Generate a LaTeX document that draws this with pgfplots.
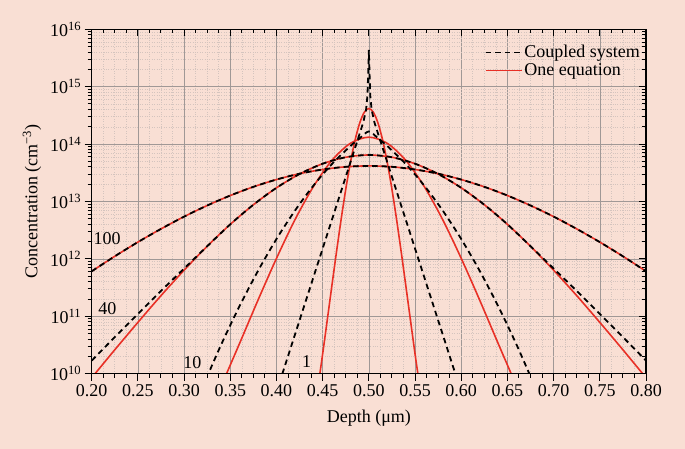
\documentclass[border=0pt]{standalone}
\usepackage{fontspec}
\setmainfont{Liberation Serif}
\usepackage{pgfplots}
\pgfplotsset{compat=1.18}
\usetikzlibrary{backgrounds,calc}

\definecolor{bgpeach}{RGB}{249,223,212}
\definecolor{curvered}{RGB}{232,48,38}
\definecolor{majgrid}{RGB}{160,152,150}
\definecolor{mingrid}{RGB}{212,196,190}

\tikzset{
  red line/.style={curvered, line width=1.6pt},
  black dash/.style={black, line width=1.8pt, dash pattern=on 5.5pt off 4pt},
}

\begin{document}
\begin{tikzpicture}[font=\fontsize{18}{21.6}\selectfont]
\begin{axis}[
    width=554.3pt, height=344.4pt, scale only axis,
    xmin=0.2, xmax=0.8,
    ymode=log, ymin=1e10, ymax=1e16,
    xtick={0.2,0.25,0.3,0.35,0.4,0.45,0.5,0.55,0.6,0.65,0.7,0.75,0.8},
    minor x tick num=3,
    ytick={1e10,1e11,1e12,1e13,1e14,1e15,1e16},
    minor ytick={2e10,3e10,4e10,5e10,6e10,7e10,8e10,9e10,
                 2e11,3e11,4e11,5e11,6e11,7e11,8e11,9e11,
                 2e12,3e12,4e12,5e12,6e12,7e12,8e12,9e12,
                 2e13,3e13,4e13,5e13,6e13,7e13,8e13,9e13,
                 2e14,3e14,4e14,5e14,6e14,7e14,8e14,9e14,
                 2e15,3e15,4e15,5e15,6e15,7e15,8e15,9e15},
    axis line style={line width=1.3pt},
    major tick length=7pt, minor tick length=4pt,
    every tick/.style={black, line width=1pt},
    tick align=outside, xtick pos=left, ytick pos=left,
    xticklabels={0.20,0.25,0.30,0.35,0.40,0.45,0.50,0.55,0.60,0.65,0.70,0.75,0.80},
    yticklabels={10\textsuperscript{10},10\textsuperscript{11},10\textsuperscript{12},
                 10\textsuperscript{13},10\textsuperscript{14},10\textsuperscript{15},10\textsuperscript{16}},
    grid=both,
    major grid style={majgrid, line width=0.6pt},
    minor grid style={mingrid, dotted, line width=0.6pt},
    xlabel={Depth (μm)},
    ylabel={Concentration (cm\textsuperscript{−3})},
    every axis x label/.style={at={(axis description cs:0.5,-0.1287)}, anchor=center},
    every axis y label/.style={at={(axis description cs:-0.1077,0.5)}, rotate=90, anchor=center},
    legend image code/.code={\draw[#1] (0pt,0pt) -- (36pt,0pt);},
    legend cell align=left,
    legend style={draw=none, fill=none, at={(axis description cs:0.992,0.958)},
                  anchor=north east, row sep=1.5pt, inner sep=0pt,
                  nodes={inner sep=1.5pt}},
  ]
  \addlegendimage{black dash}
  \addlegendentry{Coupled system}
  \addlegendimage{red line}
  \addlegendentry{One equation}

  % one equation, t = 100
  \addplot[red line, smooth, forget plot] coordinates {
    (0.200,6.08e11) (0.225,1.11e12) (0.250,1.96e12) (0.275,3.33e12)
    (0.300,5.45e12) (0.325,8.51e12) (0.350,1.27e13) (0.375,1.80e13)
    (0.400,2.41e13) (0.425,3.05e13) (0.450,3.61e13) (0.475,4.02e13)
    (0.500,4.17e13)
    (0.525,4.02e13) (0.550,3.61e13) (0.575,3.05e13) (0.600,2.41e13)
    (0.625,1.80e13) (0.650,1.27e13) (0.675,8.51e12) (0.700,5.45e12)
    (0.725,3.33e12) (0.750,1.96e12) (0.775,1.11e12) (0.800,6.08e11)
  };
  % one equation, t = 40
  \addplot[red line, smooth, forget plot] coordinates {
    (0.200,8.49e9) (0.225,2.61e10) (0.250,7.83e10) (0.275,2.29e11)
    (0.300,6.35e11) (0.325,1.66e12) (0.350,4.00e12) (0.375,8.77e12)
    (0.400,1.73e13) (0.425,3.01e13) (0.450,4.55e13) (0.475,5.90e13)
    (0.500,6.46e13)
    (0.525,5.90e13) (0.550,4.55e13) (0.575,3.01e13) (0.600,1.73e13)
    (0.625,8.77e12) (0.650,4.00e12) (0.675,1.66e12) (0.700,6.35e11)
    (0.725,2.29e11) (0.750,7.83e10) (0.775,2.61e10) (0.800,8.49e9)
  };
  % one equation, t = 10
  \addplot[red line, smooth, forget plot] coordinates {
    (0.34,6.00e9) (0.36,3.35e10) (0.38,1.91e11) (0.40,1.02e12)
    (0.42,4.80e12) (0.44,1.82e13) (0.46,5.20e13) (0.48,1.03e14)
    (0.50,1.32e14)
    (0.52,1.03e14) (0.54,5.20e13) (0.56,1.82e13) (0.58,4.80e12)
    (0.60,1.02e12) (0.62,1.91e11) (0.64,3.35e10) (0.66,6.00e9)
  };
  % one equation, t = 1
  \addplot[red line, smooth, forget plot] coordinates {
    (0.445,5.98e9) (0.450,2.21e10) (0.455,8.65e10) (0.460,3.43e11)
    (0.465,1.33e12) (0.470,4.89e12) (0.475,1.63e13) (0.480,4.72e13)
    (0.485,1.16e14) (0.490,2.30e14) (0.495,3.57e14) (0.500,4.17e14)
    (0.505,3.57e14) (0.510,2.30e14) (0.515,1.16e14) (0.520,4.72e13)
    (0.525,1.63e13) (0.530,4.89e12) (0.535,1.33e12) (0.540,3.43e11)
    (0.545,8.65e10) (0.550,2.21e10) (0.555,5.98e9)
  };

  % coupled system, t = 100
  \addplot[black dash, smooth, forget plot] coordinates {
    (0.200,6.08e11) (0.225,1.11e12) (0.250,1.96e12) (0.275,3.33e12)
    (0.300,5.45e12) (0.325,8.51e12) (0.350,1.27e13) (0.375,1.80e13)
    (0.400,2.41e13) (0.425,3.05e13) (0.450,3.61e13) (0.475,4.02e13)
    (0.500,4.17e13)
    (0.525,4.02e13) (0.550,3.61e13) (0.575,3.05e13) (0.600,2.41e13)
    (0.625,1.80e13) (0.650,1.27e13) (0.675,8.51e12) (0.700,5.45e12)
    (0.725,3.33e12) (0.750,1.96e12) (0.775,1.11e12) (0.800,6.08e11)
  };
  % coupled system, t = 40
  \addplot[black dash, smooth, forget plot] coordinates {
    (0.200,1.69e10) (0.225,4.34e10) (0.250,1.10e11) (0.275,2.77e11)
    (0.300,6.79e11) (0.325,1.66e12) (0.350,4.00e12) (0.375,8.77e12)
    (0.400,1.73e13) (0.425,3.01e13) (0.450,4.55e13) (0.475,5.90e13)
    (0.500,6.46e13)
    (0.525,5.90e13) (0.550,4.55e13) (0.575,3.01e13) (0.600,1.73e13)
    (0.625,8.77e12) (0.650,4.00e12) (0.675,1.66e12) (0.700,6.79e11)
    (0.725,2.77e11) (0.750,1.10e11) (0.775,4.34e10) (0.800,1.69e10)
  };
  % coupled system, t = 10
  \addplot[black dash, smooth, forget plot] coordinates {
    (0.32,5.82e9) (0.34,3.17e10) (0.36,1.50e11) (0.38,6.18e11)
    (0.40,2.22e12) (0.42,6.93e12) (0.44,1.89e13) (0.46,4.48e13)
    (0.48,9.23e13) (0.49,1.26e14) (0.50,1.66e14) (0.51,1.26e14)
    (0.52,9.23e13) (0.54,4.48e13) (0.56,1.89e13) (0.58,6.93e12)
    (0.60,2.22e12) (0.62,6.18e11) (0.64,1.50e11) (0.66,3.17e10)
    (0.68,5.82e9)
  };
  % coupled system, t = 1
  \addplot[black dash, forget plot] coordinates {
    (0.40,4.79e9) (0.42,4.79e10) (0.44,4.79e11) (0.46,4.79e12)
    (0.48,4.79e13) (0.494,2.40e14) (0.497,3.98e14) (0.4985,7.08e14)
    (0.4992,1.58e15) (0.500,4.37e15) (0.5008,1.58e15) (0.5015,7.08e14)
    (0.503,3.98e14) (0.506,2.40e14) (0.52,4.79e13) (0.54,4.79e12)
    (0.56,4.79e11) (0.58,4.79e10) (0.60,4.79e9)
  };

  \node at (axis cs:0.2166,2.29e12) {100};
  \node at (axis cs:0.217,1.38e11) {40};
  \node at (axis cs:0.309,1.55e10) {10};
  \node at (axis cs:0.4327,1.62e10) {1};
\end{axis}
% mirrored ticks on top and right, pointing inward
\begin{axis}[
    width=554.3pt, height=344.4pt, scale only axis,
    xmin=0.2, xmax=0.8,
    ymode=log, ymin=1e10, ymax=1e16,
    xtick={0.2,0.25,0.3,0.35,0.4,0.45,0.5,0.55,0.6,0.65,0.7,0.75,0.8},
    minor x tick num=3,
    ytick={1e10,1e11,1e12,1e13,1e14,1e15,1e16},
    minor ytick={2e10,3e10,4e10,5e10,6e10,7e10,8e10,9e10,
                 2e11,3e11,4e11,5e11,6e11,7e11,8e11,9e11,
                 2e12,3e12,4e12,5e12,6e12,7e12,8e12,9e12,
                 2e13,3e13,4e13,5e13,6e13,7e13,8e13,9e13,
                 2e14,3e14,4e14,5e14,6e14,7e14,8e14,9e14,
                 2e15,3e15,4e15,5e15,6e15,7e15,8e15,9e15},
    axis line style={line width=1.3pt},
    major tick length=7pt, minor tick length=4pt,
    every tick/.style={black, line width=1pt},
    tick align=inside, xtick pos=right, ytick pos=right,
    xticklabels={}, yticklabels={},
  ]
  \addplot[draw=none, forget plot] coordinates {(0.5,1e12)};
\end{axis}
\pgfresetboundingbox
\useasboundingbox ($(current axis.south west)+(-91.7pt,-75.3pt)$)
  rectangle ($(current axis.north east)+(39pt,29.3pt)$);
\begin{scope}[on background layer]
  \fill[bgpeach] ($(current axis.south west)+(-91.7pt,-75.3pt)$)
    rectangle ($(current axis.north east)+(39pt,29.3pt)$);
\end{scope}
\end{tikzpicture}
\end{document}
